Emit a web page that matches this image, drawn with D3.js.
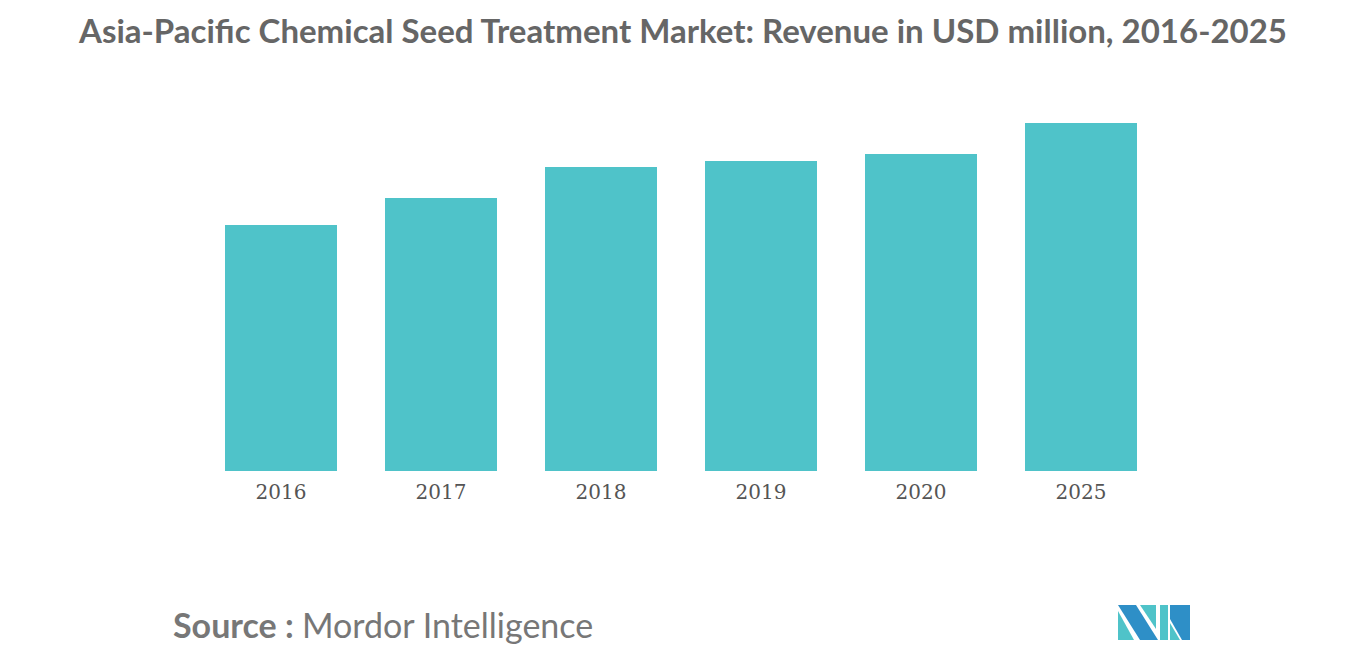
<!DOCTYPE html>
<html><head><meta charset="utf-8">
<script src="https://cdn.jsdelivr.net/npm/d3@7"></script>
<style>body{margin:0;background:#fff}</style>
</head><body>
<svg id="chart" width="1366" height="655"></svg>
<script>
const years = ['2016', '2017', '2018', '2019', '2020', '2025']
const revenue = [246, 273, 304, 310, 317, 348]

const svg = d3.select('#chart')
const x = d3.scaleBand().domain(years).range([145, 1217]).paddingInner(0.3).paddingOuter(0.5)
const y = d3.scaleLinear().domain([0, 348]).range([471, 123])

svg.append('text')
    .attr('x', 683).attr('y', 43).attr('text-anchor', 'middle')
    .style('font-family', 'Lato, "Open Sans", sans-serif').style('font-weight', 'bold')
    .style('font-size', '33px').style('fill', '#666')
    .text('Asia-Pacific Chemical Seed Treatment Market: Revenue in USD million, 2016-2025')

svg.selectAll('rect.bar').data(years).join('rect')
    .attr('class', 'bar')
    .attr('x', d => x(d)).attr('width', x.bandwidth())
    .attr('y', (d, i) => y(revenue[i]))
    .attr('height', (d, i) => y(0) - y(revenue[i]))
    .attr('fill', '#4fc3c9')

const axis = svg.append('g').attr('transform', 'translate(0,471)')
    .call(d3.axisBottom(x).tickSize(0).tickPadding(14))
axis.select('.domain').remove()
axis.selectAll('text').style('font-family', '"DejaVu Serif", serif').style('font-size', '20px').style('fill', '#555')

svg.append('text').attr('x', 173).attr('y', 638)
    .style('font-family', 'Lato, sans-serif').style('font-size', '34px').style('fill', '#777')
    .call(t => {
        t.append('tspan').style('font-weight', 'bold').text('Source : ')
        t.append('tspan').text('Mordor Intelligence')
    })

// logo
const logo = svg.append('g').attr('transform', 'translate(1118,605)')
const polys = [
    [[[0,0],[18,0],[40,35],[22,35]], '#2e8fc7'],
    [[[0,6],[16,35],[0,35]], '#4fc3c9'],
    [[[22,0],[38,0],[38,24]], '#4fc3c9'],
    [[[42,0],[50,0],[50,35],[42,35]], '#4fc3c9'],
    [[[52,0],[72,0],[72,35],[64,35],[52,14]], '#2e8fc7'],
    [[[52,18],[62,35],[52,35]], '#4fc3c9']
]
polys.forEach(([pts, c]) => logo.append('polygon').attr('points', pts.map(p => p.join(',')).join(' ')).attr('fill', c))
</script>
</body></html>
